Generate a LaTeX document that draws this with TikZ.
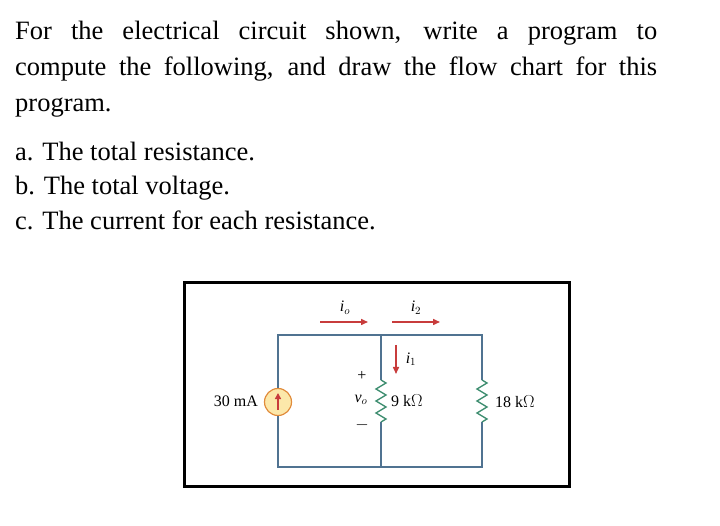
\documentclass[tikz,border=0pt]{standalone}
\usepackage{fontspec}
\setmainfont{Liberation Serif}
\usetikzlibrary{decorations.pathmorphing,arrows.meta}
\definecolor{wire}{RGB}{80,115,145}
\definecolor{res}{RGB}{60,140,110}
\definecolor{arr}{RGB}{200,60,60}
\definecolor{srcf}{RGB}{252,232,170}
\definecolor{srcd}{RGB}{225,140,60}
\begin{document}
\begin{tikzpicture}[x=1pt,y=-1pt,
  wirel/.style={draw=wire,line width=1.3pt},
  resl/.style={draw=res,line width=1.3pt,decorate,decoration={zigzag,segment length=12pt,amplitude=5pt}},
  cur/.style={draw=arr,line width=1.5pt,-{Triangle[length=7pt,width=6pt]}},
  txt/.style={font=\fontsize{26.5}{32}\selectfont,anchor=base west,inner sep=0},
  lab/.style={font=\fontsize{16}{18}\selectfont,inner sep=1pt}]
\useasboundingbox (0,0) rectangle (720,526);
\node[txt,anchor=north west,text width=642pt,align=justify,font=\fontsize{26.5}{36}\selectfont] (p) at (15,21)
 {For the electrical circuit shown, write a program to\linebreak compute the following, and draw the flow chart for this\linebreak program.};
\node[txt] (a) at (15,161) {a. The total resistance.};
\node[txt] (b) at (15,195) {b. The total voltage.};
\node[txt] (c) at (15,230) {c. The current for each resistance.};
\draw[line width=3pt] (184,283) rectangle (569,486);
\coordinate (tl) at (278,335); \coordinate (tm) at (381,335); \coordinate (tr) at (482,335);
\coordinate (bl) at (278,467); \coordinate (bm) at (381,467); \coordinate (br) at (482,467);
\coordinate (r1a) at (381,380); \coordinate (r1b) at (381,422);
\coordinate (r2a) at (482,380); \coordinate (r2b) at (482,422);
\node[circle,fill=srcf,draw=srcd,line width=1.2pt,minimum size=27pt,inner sep=0] (s) at (278,402) {};
\draw[wirel] (s.north) -- (tl) -- (tr) -- (r2a);
\draw[wirel] (s.south) -- (bl) -- (br) -- (r2b);
\draw[wirel] (tm) -- (r1a); \draw[wirel] (bm) -- (r1b);
\draw[resl] (r1a) -- (r1b); \draw[resl] (r2a) -- (r2b);
\draw[draw=arr,line width=2pt,-{Triangle[length=6pt,width=6pt]}] (278,410) -- (278,393);
\node[lab,anchor=east] (sl) at (259,401) {30 mA};
\node[lab,anchor=west] (l1) at (390,401) {9 k$\Omega$};
\node[lab,anchor=west] (l2) at (494,402) {18 k$\Omega$};
\node[lab] (vp) at (362,376) {+};
\node[lab] (vm) at (362,425) {$-$};
\node[lab] (vo) at (361,400) {\itshape v$_o$};
\coordinate (ioa) at (320,322); \coordinate (iob) at (368,322);
\coordinate (i2a) at (392,322); \coordinate (i2b) at (440,322);
\coordinate (i1a) at (396,345); \coordinate (i1b) at (396,374);
\draw[cur] (ioa) -- (iob); \draw[cur] (i2a) -- (i2b); \draw[cur] (i1a) -- (i1b);
\node[lab] (io) at (345,308) {\itshape i$_o$};
\node[lab] (i2) at (416,308) {\itshape i$_2$};
\node[lab] (i1) at (411,359) {\itshape i$_1$};
\end{tikzpicture}
\end{document}
